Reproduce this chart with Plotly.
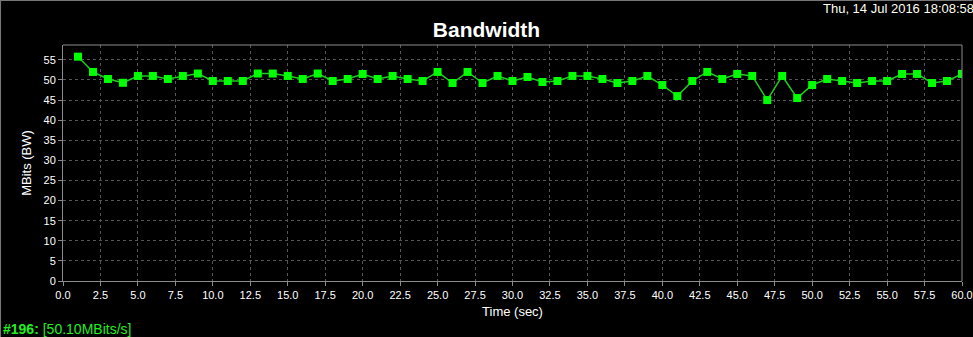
import plotly.graph_objects as go

time_sec = list(range(1, 61))
bandwidth = [
    55.8, 52.0, 50.25, 49.3, 51.0, 51.0, 50.25, 51.0, 51.6, 49.75,
    49.75, 49.75, 51.6, 51.6, 51.0, 50.25, 51.6, 49.75, 50.25, 51.5,
    50.25, 51.0, 50.25, 49.75, 52.0, 49.25, 52.0, 49.25, 51.0, 49.75,
    50.75, 49.5, 49.75, 51.0, 51.0, 50.25, 49.25, 49.75, 51.0, 48.75,
    46.0, 49.75, 52.0, 50.25, 51.5, 51.0, 45.0, 51.0, 45.5, 48.75,
    50.25, 49.75, 49.25, 49.75, 49.75, 51.5, 51.5, 49.25, 49.75, 51.5,
]
x_ticks = [i * 2.5 for i in range(25)]
y_ticks = list(range(0, 60, 5))

W, H = 973, 337
L, R, T, B = 63, 10.5, 45, 56

fig = go.Figure()
fig.add_trace(go.Scatter(
    x=time_sec, y=bandwidth, mode="lines+markers",
    line=dict(color="#22cc22", width=1.5),
    marker=dict(symbol="square", size=8, color="#00ff00", line=dict(width=0)),
    cliponaxis=True, showlegend=False,
))

axis_common = dict(
    showgrid=True, gridcolor="#555555", griddash="3px,3px", gridwidth=1,
    zeroline=False, showline=True, linecolor="#8c8c8c", linewidth=1,
    ticks="outside", ticklen=4, tickcolor="#8c8c8c", automargin=False,
    tickfont=dict(family="Liberation Sans, Arial", size=11, color="#ffffff"),
)

fig.update_layout(
    width=W, height=H,
    paper_bgcolor="#000000", plot_bgcolor="#000000",
    margin=dict(l=L, r=R, t=T, b=B, pad=0, autoexpand=False),
    title=dict(text="<b>Bandwidth</b>", x=0.5, xanchor="center", y=1 - 30 / H, yanchor="middle",
               automargin=False,
               font=dict(family="Liberation Sans, Arial", size=21, color="#ffffff")),
    xaxis=dict(range=[0, 60], tickvals=x_ticks, ticktext=[f"{v:.1f}" for v in x_ticks],
               mirror=False,
               title=dict(text="Time (sec)", standoff=6,
                          font=dict(family="Liberation Sans, Arial", size=13, color="#ffffff")),
               **axis_common),
    yaxis=dict(range=[0, 58.7], tickvals=y_ticks,
               title=dict(text="MBits (BW)", standoff=8,
                          font=dict(family="Liberation Sans, Arial", size=13, color="#ffffff")),
               **axis_common),
    shapes=[
        dict(type="line", xref="paper", yref="paper", x0=0, x1=1, y0=1, y1=1,
             line=dict(color="#8c8c8c", width=1)),
        dict(type="line", xref="paper", yref="paper", x0=1, x1=1, y0=0, y1=1,
             line=dict(color="#8c8c8c", width=1)),
        dict(type="line", xref="paper", yref="paper", x0=-L / (W - L - R), x1=1 + R / (W - L - R),
             y0=1 + T / (H - T - B), y1=1 + T / (H - T - B),
             line=dict(color="#777777", width=2)),
        dict(type="line", xref="paper", yref="paper", x0=-L / (W - L - R), x1=-L / (W - L - R),
             y0=-B / (H - T - B), y1=1 + T / (H - T - B),
             line=dict(color="#777777", width=2)),
    ],
    annotations=[
        dict(text="Thu, 14 Jul 2016 18:08:58", xref="paper", yref="paper",
             x=(821 - L) / (W - L - R), y=1 + (T - 9) / (H - T - B),
             xanchor="left", yanchor="middle", showarrow=False,
             font=dict(family="Liberation Sans, Arial", size=13, color="#fffff0")),
        dict(text="<b>#196:</b> [50.10MBits/s]", xref="paper", yref="paper",
             x=(1 - L) / (W - L - R), y=-(329 - (H - B)) / (H - T - B),
             xanchor="left", yanchor="middle", showarrow=False,
             font=dict(family="Liberation Sans, Arial", size=14, color="#22ee22")),
    ],
)

fig.write_html("out.html")
